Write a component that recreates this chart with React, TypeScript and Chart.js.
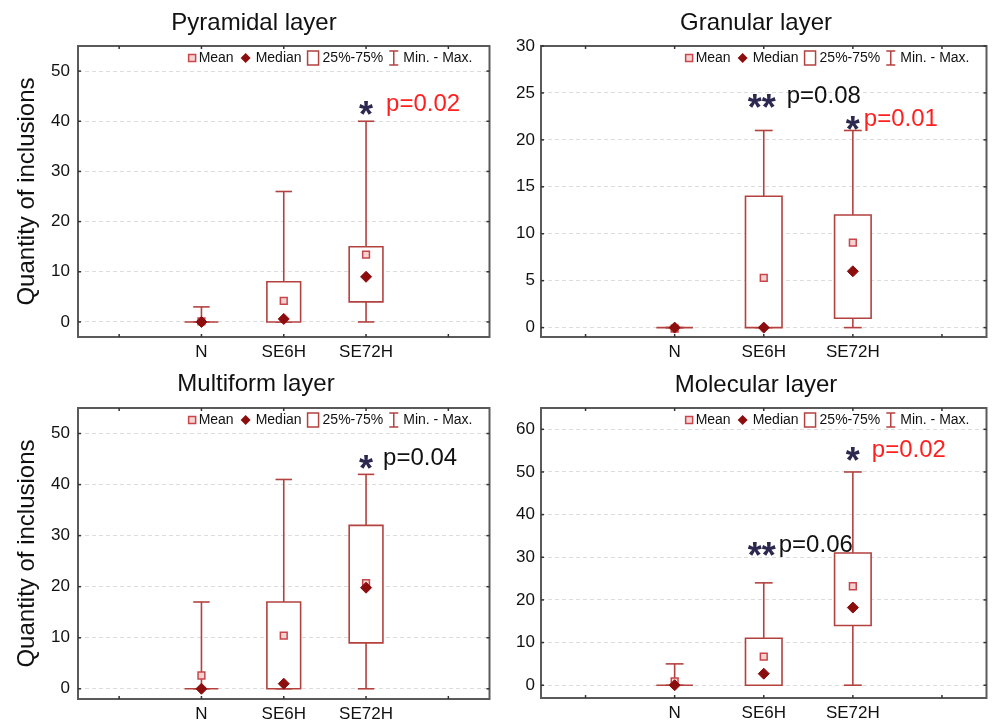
import React, { useEffect, useRef } from 'react';
import { Chart, registerables } from 'chart.js';

Chart.register(...registerables);

const FONT = "'Liberation Sans', Arial, Helvetica, sans-serif";

// ---- categories ----
const groups = ['N', 'SE6H', 'SE72H'];
const categoryLabels = ['', ...groups, ''];

// ---- Pyramidal layer ----
const pyramidalMin = [0, 0, 0];
const pyramidalQ1 = [0, 0, 4];
const pyramidalMedian = [0, 0.6, 9];
const pyramidalMean = [0.1, 4.2, 13.4];
const pyramidalQ3 = [0, 8, 15];
const pyramidalMax = [3, 26, 40];
const pyramidalTicks = [0, 10, 20, 30, 40, 50];

// ---- Granular layer ----
const granularMin = [0, 0, 0];
const granularQ1 = [0, 0, 1];
const granularMedian = [0, 0, 6];
const granularMean = [-0.1, 5.3, 9.05];
const granularQ3 = [0, 14, 12];
const granularMax = [0, 21, 21];
const granularTicks = [0, 5, 10, 15, 20, 25, 30];

// ---- Multiform layer ----
const multiformMin = [0, 0, 0];
const multiformQ1 = [0, 0, 9];
const multiformMedian = [0, 1, 19.8];
const multiformMean = [2.6, 10.4, 20.7];
const multiformQ3 = [0, 17, 32];
const multiformMax = [17, 41, 42];
const multiformTicks = [0, 10, 20, 30, 40, 50];

// ---- Molecular layer ----
const molecularMin = [0, 0, 0];
const molecularQ1 = [0, 0, 14];
const molecularMedian = [0, 2.7, 18.2];
const molecularMean = [0.9, 6.7, 23.2];
const molecularQ3 = [0, 11, 31];
const molecularMax = [5, 24, 50];
const molecularTicks = [0, 10, 20, 30, 40, 50, 60];

// ---- significance notes ----
const RED = '#ff1f1f';
const BLACK = '#111111';
const pyramidalNotes = [{ group: 2, stars: '*', starValue: 43, text: 'p=0.02', textValue: 43.6, dx: 20, color: RED }];
const granularNotes = [
  { group: 1, stars: '**', starValue: 24.3, text: 'p=0.08', textValue: 24.7, dx: 23, color: BLACK },
  { group: 2, stars: '*', starValue: 22, text: 'p=0.01', textValue: 22.3, dx: 11, color: RED },
];
const multiformNotes = [{ group: 2, stars: '*', starValue: 44.7, text: 'p=0.04', textValue: 45.3, dx: 17, color: BLACK }];
const molecularNotes = [
  { group: 2, stars: '*', starValue: 54.6, text: 'p=0.02', textValue: 55.3, dx: 19, color: RED },
  { group: 1, stars: '**', starValue: 32.3, text: 'p=0.06', textValue: 33, dx: 15, color: BLACK },
];

const BOX_COLOR = '#b3423f';
const MEDIAN_COLOR = '#8c0d0d';
const MEAN_BORDER = '#c8464a';
const MEAN_FILL = '#f6d3d3';
const STAR_COLOR = '#2c2850';
const FRAME_COLOR = '#5a5a5a';

type Note = { group: number; stars: string; starValue: number; text: string; textValue: number; dx: number; color: string };

type Panel = {
  title: string;
  yTitle: string | null;
  mins: number[];
  q1s: number[];
  medians: number[];
  means: number[];
  q3s: number[];
  maxs: number[];
  ticks: number[];
  yMin: number;
  yMax: number;
  notes: Note[];
  box: { left: number; top: number; width: number; height: number };
  padTop: number;
  padRight: number;
  titleX: number;
  titleY: number;
  yWidth: number;
  xHeight: number;
  tickPad: number;
  yTitlePad: number;
};

const panels: Panel[] = [
  {
    title: 'Pyramidal layer', yTitle: 'Quantity of inclusions',
    mins: pyramidalMin, q1s: pyramidalQ1, medians: pyramidalMedian, means: pyramidalMean, q3s: pyramidalQ3, maxs: pyramidalMax,
    ticks: pyramidalTicks, yMin: -3, yMax: 55, notes: pyramidalNotes,
    box: { left: 0, top: 0, width: 496, height: 361 },
    padTop: 46, padRight: 3, titleX: 254, titleY: 23, yWidth: 78, xHeight: 24, tickPad: 8, yTitlePad: 12.6,
  },
  {
    title: 'Granular layer', yTitle: null,
    mins: granularMin, q1s: granularQ1, medians: granularMedian, means: granularMean, q3s: granularQ3, maxs: granularMax,
    ticks: granularTicks, yMin: -1, yMax: 30, notes: granularNotes,
    box: { left: 496, top: 0, width: 497, height: 361 },
    padTop: 46, padRight: 1, titleX: 260, titleY: 23, yWidth: 45, xHeight: 24, tickPad: 6, yTitlePad: 0,
  },
  {
    title: 'Multiform layer', yTitle: 'Quantity of inclusions',
    mins: multiformMin, q1s: multiformQ1, medians: multiformMedian, means: multiformMean, q3s: multiformQ3, maxs: multiformMax,
    ticks: multiformTicks, yMin: -2, yMax: 55, notes: multiformNotes,
    box: { left: 0, top: 361, width: 496, height: 361 },
    padTop: 47, padRight: 3, titleX: 256, titleY: 23, yWidth: 78, xHeight: 23, tickPad: 8, yTitlePad: 12.6,
  },
  {
    title: 'Molecular layer', yTitle: null,
    mins: molecularMin, q1s: molecularQ1, medians: molecularMedian, means: molecularMean, q3s: molecularQ3, maxs: molecularMax,
    ticks: molecularTicks, yMin: -3, yMax: 65, notes: molecularNotes,
    box: { left: 496, top: 361, width: 497, height: 361 },
    padTop: 47, padRight: 1, titleX: 260, titleY: 24, yWidth: 45, xHeight: 24, tickPad: 6, yTitlePad: 0,
  },
];

function line(ctx: CanvasRenderingContext2D, x1: number, y1: number, x2: number, y2: number) {
  ctx.beginPath();
  ctx.moveTo(x1, y1);
  ctx.lineTo(x2, y2);
  ctx.stroke();
}

function makePlugin(p: Panel) {
  return {
    id: 'boxplotPanel',
    beforeDatasetsDraw(chart: any) {
      const { ctx } = chart;
      const x = chart.scales.x;
      const y = chart.scales.y;
      const slot = x.getPixelForValue(1) - x.getPixelForValue(0);
      const bw = slot * 0.205;
      const cw = slot * 0.1;
      ctx.save();
      ctx.strokeStyle = BOX_COLOR;
      ctx.lineWidth = 1.6;
      groups.forEach((_, i) => {
        const cx = x.getPixelForValue(i + 1);
        const yMin = y.getPixelForValue(p.mins[i]);
        const yQ1 = y.getPixelForValue(p.q1s[i]);
        const yQ3 = y.getPixelForValue(p.q3s[i]);
        const yMax = y.getPixelForValue(p.maxs[i]);
        line(ctx, cx, yQ3, cx, yMax);
        line(ctx, cx, yQ1, cx, yMin);
        line(ctx, cx - cw, yMax, cx + cw, yMax);
        line(ctx, cx - cw, yMin, cx + cw, yMin);
        ctx.fillStyle = '#ffffff';
        ctx.fillRect(cx - bw, yQ3, bw * 2, yQ1 - yQ3);
        ctx.beginPath();
        ctx.rect(cx - bw, yQ3, bw * 2, yQ1 - yQ3);
        ctx.stroke();
      });
      ctx.restore();
    },
    afterDatasetsDraw(chart: any) {
      const { ctx, chartArea } = chart;
      const x = chart.scales.x;
      const y = chart.scales.y;
      const { left, right, top, bottom } = chartArea;
      ctx.save();
      // frame
      ctx.strokeStyle = FRAME_COLOR;
      ctx.lineWidth = 2;
      ctx.strokeRect(left, top, right - left, bottom - top);
      // tick marks
      ctx.lineWidth = 1.5;
      ctx.strokeStyle = '#333';
      categoryLabels.forEach((_, i) => {
        const px = x.getPixelForValue(i);
        line(ctx, px, top, px, top + 3);
        line(ctx, px, bottom, px, bottom - 3);
      });
      p.ticks.forEach((v) => {
        const py = y.getPixelForValue(v);
        line(ctx, left, py, left + 3, py);
        line(ctx, right, py, right - 3, py);
      });
      // legend
      ctx.font = `14px ${FONT}`;
      ctx.textBaseline = 'middle';
      ctx.textAlign = 'left';
      const ly = top + 12;
      const items = [
        { icon: 'mean', text: 'Mean', gapBefore: 0, gapIcon: 3 },
        { icon: 'median', text: 'Median', gapBefore: 7, gapIcon: 5 },
        { icon: 'box', text: '25%-75%', gapBefore: 6, gapIcon: 4 },
        { icon: 'whisker', text: 'Min. - Max.', gapBefore: 6, gapIcon: 5 },
      ];
      const iconW: Record<string, number> = { mean: 7, median: 10, box: 11, whisker: 9 };
      let total = 0;
      items.forEach((it) => {
        total += it.gapBefore + iconW[it.icon] + it.gapIcon + ctx.measureText(it.text).width;
      });
      let lx = right - 17 - total;
      items.forEach((it) => {
        lx += it.gapBefore;
        const w = iconW[it.icon];
        const cx = lx + w / 2;
        if (it.icon === 'mean') {
          ctx.fillStyle = MEAN_FILL;
          ctx.strokeStyle = MEAN_BORDER;
          ctx.lineWidth = 1.5;
          ctx.fillRect(cx - 3.5, ly - 3.5, 7, 7);
          ctx.strokeRect(cx - 3.5, ly - 3.5, 7, 7);
        } else if (it.icon === 'median') {
          ctx.fillStyle = MEDIAN_COLOR;
          ctx.beginPath();
          ctx.moveTo(cx, ly - 5);
          ctx.lineTo(cx + 5, ly);
          ctx.lineTo(cx, ly + 5);
          ctx.lineTo(cx - 5, ly);
          ctx.closePath();
          ctx.fill();
        } else if (it.icon === 'box') {
          ctx.strokeStyle = BOX_COLOR;
          ctx.lineWidth = 1.5;
          ctx.strokeRect(cx - 5.5, ly - 7, 11, 14);
        } else {
          ctx.strokeStyle = BOX_COLOR;
          ctx.lineWidth = 1.5;
          line(ctx, cx, ly - 7, cx, ly + 7);
          line(ctx, cx - 4.5, ly - 7, cx + 4.5, ly - 7);
          line(ctx, cx - 4.5, ly + 7, cx + 4.5, ly + 7);
        }
        lx += w + it.gapIcon;
        ctx.fillStyle = '#111';
        ctx.fillText(it.text, lx, ly + 0.5);
        lx += ctx.measureText(it.text).width;
      });
      // significance notes
      p.notes.forEach((n) => {
        const gx = x.getPixelForValue(n.group + 1);
        const sy = y.getPixelForValue(n.starValue);
        ctx.font = `bold 36px ${FONT}`;
        ctx.textAlign = 'center';
        ctx.textBaseline = 'alphabetic';
        ctx.fillStyle = STAR_COLOR;
        ctx.fillText(n.stars, gx - (n.stars.length > 1 ? 2 : 0), sy + 0.58 * 36);
        const ty = y.getPixelForValue(n.textValue);
        ctx.font = `24px ${FONT}`;
        ctx.textAlign = 'left';
        ctx.textBaseline = 'middle';
        ctx.fillStyle = n.color;
        ctx.fillText(n.text, gx + n.dx, ty + 1);
      });
      // panel title
      ctx.font = `24px ${FONT}`;
      ctx.textAlign = 'center';
      ctx.textBaseline = 'middle';
      ctx.fillStyle = '#111';
      ctx.fillText(p.title, p.titleX, p.titleY);
      ctx.restore();
    },
  };
}

function ChartPanel({ panel }: { panel: Panel }) {
  const ref = useRef<HTMLCanvasElement | null>(null);
  useEffect(() => {
    if (!ref.current) return;
    const p = panel;
    const padArr = (arr: number[]) => [null, ...arr, null];
    const chart = new Chart(ref.current, {
      type: 'line',
      data: {
        labels: categoryLabels,
        datasets: [
          {
            label: 'Median',
            data: padArr(p.medians),
            showLine: false,
            pointStyle: 'rectRot',
            pointRadius: 5.5,
            pointBackgroundColor: MEDIAN_COLOR,
            pointBorderColor: MEDIAN_COLOR,
            pointBorderWidth: 1,
          },
          {
            label: 'Mean',
            data: padArr(p.means),
            showLine: false,
            pointStyle: 'rect',
            pointRadius: 4.8,
            pointBackgroundColor: MEAN_FILL,
            pointBorderColor: MEAN_BORDER,
            pointBorderWidth: 1.5,
          },
        ],
      } as any,
      options: {
        animation: false,
        responsive: false,
        events: [],
        layout: { padding: { left: 0, right: p.padRight, top: p.padTop, bottom: 0 } },
        plugins: {
          legend: { display: false },
          tooltip: { enabled: false },
          title: { display: false },
        },
        scales: {
          x: {
            type: 'category',
            offset: true,
            grid: { display: false, drawTicks: false },
            border: { display: false },
            ticks: { font: { size: 17, family: FONT }, color: '#111', padding: 5, autoSkip: false, maxRotation: 0 },
            afterFit: (s: any) => { s.height = p.xHeight; },
          },
          y: {
            type: 'linear',
            min: p.yMin,
            max: p.yMax,
            grid: { color: '#dcdcdc', lineWidth: 1, drawTicks: false },
            border: { display: false, dash: [4, 3] },
            ticks: { font: { size: 17, family: FONT }, color: '#111', padding: p.tickPad },
            afterBuildTicks: (s: any) => { s.ticks = p.ticks.map((v) => ({ value: v })); },
            afterFit: (s: any) => { s.width = p.yWidth; },
            title: {
              display: !!p.yTitle,
              text: p.yTitle || '',
              color: '#111',
              font: { size: 24, family: FONT },
              padding: { top: p.yTitlePad, bottom: 0 },
            },
          },
        },
      } as any,
      plugins: [makePlugin(p)],
    });
    return () => chart.destroy();
  }, [panel]);
  const b = panel.box;
  return (
    <canvas
      ref={ref}
      width={b.width}
      height={b.height}
      style={{ position: 'absolute', left: b.left, top: b.top, width: b.width, height: b.height }}
    />
  );
}

export default function App() {
  return (
    <div style={{ position: 'absolute', left: 0, top: 0, width: 993, height: 722, background: '#ffffff', overflow: 'hidden' }}>
      {panels.map((p) => (
        <ChartPanel key={p.title} panel={p} />
      ))}
    </div>
  );
}
